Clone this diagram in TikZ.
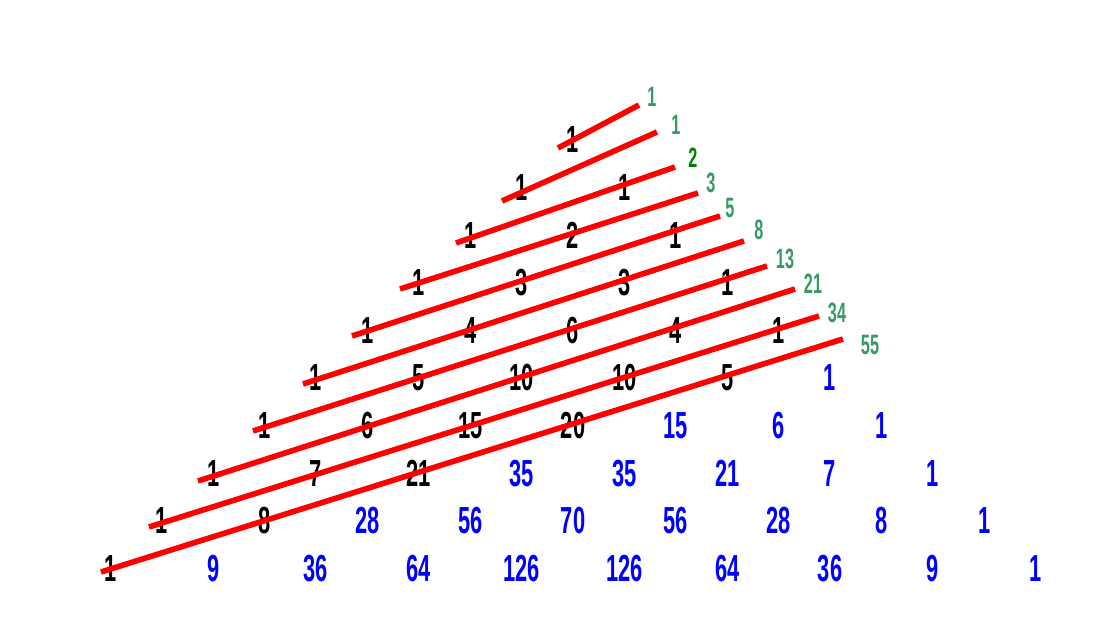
\documentclass[tikz,border=0pt]{standalone}
\usepackage{fontspec}
\newfontfamily\numfont[FakeStretch=0.58]{Liberation Sans}
\definecolor{fibgreen}{RGB}{52,155,100}
\definecolor{darkfib}{RGB}{0,128,0}
\begin{document}
\begin{tikzpicture}[x=1pt,y=-1pt,
  entry/.style={inner sep=0pt,anchor=center,font=\numfont\bfseries\fontsize{37.7}{40}\selectfont},
  fiblabel/.style={inner sep=0pt,anchor=center,font=\numfont\bfseries\fontsize{28}{30}\selectfont},
  diag/.style={draw=red,line width=5.6pt,line cap=butt}]
\useasboundingbox (0,0) rectangle (1104,635);
% Pascal triangle entries
\foreach \n/\vals in {0/{1},1/{1,1},2/{1,2,1},3/{1,3,3,1},4/{1,4,6,4,1},5/{1,5,10,10,5,1},6/{1,6,15,20,15,6,1},7/{1,7,21,35,35,21,7,1},8/{1,8,28,56,70,56,28,8,1},9/{1,9,36,64,126,126,64,36,9,1}}{
  \foreach \v [count=\c from 0] in \vals {
    \pgfmathtruncatemacro{\s}{\n+\c}
    \ifnum\s>9 \def\col{blue}\else\def\col{black}\fi
    \node[entry,text=\col] (e-\n-\c) at ({573+(\c-\n/2)*102.8},{140+47.6*\n}) {\v};
  }
}
% diagonal line end points
\foreach \m/\sx/\sy/\tx/\ty in {0/558/148/639/105,1/502/201/657/132,2/456/243/675/167,3/400/289/698/193,4/352/336/720/216,5/303/384/744/241,6/253/431/767/266,7/198/481/795/289,8/149/527/819/316,9/101/572/843/339}{
  \coordinate (s-\m) at (\sx,\sy);
  \coordinate (t-\m) at (\tx,\ty);
  \draw[diag] (s-\m) -- (t-\m);
}
% Fibonacci sums
\foreach \m/\lx/\ly/\txt/\lc in {0/652/97/1/fibgreen,1/676/125/1/fibgreen,2/693/158/2/darkfib,3/711/183/3/fibgreen,4/730/208/5/fibgreen,5/759/230/8/fibgreen,6/785/259/13/fibgreen,7/813/284/21/fibgreen,8/837/313/34/fibgreen,9/870/345/55/fibgreen}{
  \node[fiblabel,text=\lc] (f-\m) at (\lx,\ly) {\txt};
}
\end{tikzpicture}
\end{document}
